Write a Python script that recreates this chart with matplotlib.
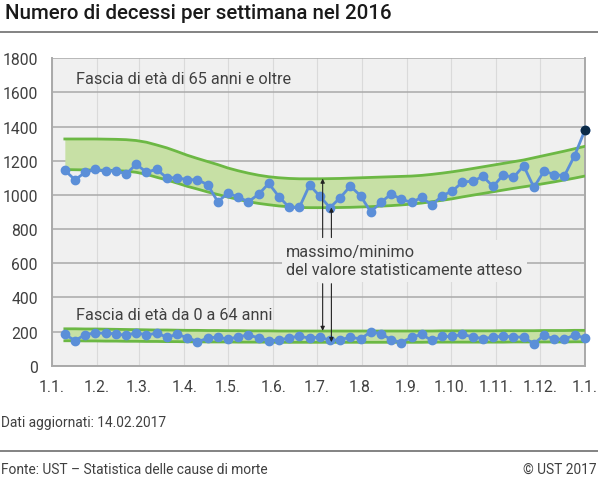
import numpy as np, pandas as pd
import matplotlib
matplotlib.use('Agg')
from matplotlib import pyplot as plt
from matplotlib.lines import Line2D

plt.rcParams['font.family'] = ['Roboto', 'DejaVu Sans']

# Weekly deaths 2016 (week ending on Sunday)
weeks = pd.date_range('2016-01-10', periods=52, freq='7D')

deaths_65plus = [1143, 1088, 1132, 1149, 1137, 1142, 1122, 1179, 1133, 1149,
                 1100, 1100, 1089, 1088, 1060, 960, 1010, 987, 960, 1003,
                 1067, 989, 927, 926, 1057, 993, 925, 983, 1051, 995,
                 900, 956, 1005, 974, 956, 985, 940, 995, 1022, 1075,
                 1080, 1108, 1049, 1117, 1102, 1170, 1044, 1139, 1119, 1112,
                 1230, 1378]
max_65plus = [1327, 1327, 1327, 1327, 1326, 1325, 1323, 1318, 1308, 1292,
              1275, 1254, 1232, 1213, 1195, 1177, 1157, 1141, 1127, 1115,
              1106, 1100, 1096, 1094, 1094, 1094, 1095, 1096, 1098, 1100,
              1102, 1104, 1106, 1108, 1110, 1114, 1120, 1127, 1135, 1144,
              1154, 1164, 1174, 1184, 1194, 1204, 1217, 1230, 1243, 1256,
              1270, 1284]
min_65plus = [1148, 1147, 1146, 1145, 1144, 1142, 1139, 1132, 1120, 1103,
              1087, 1069, 1050, 1034, 1017, 1002, 987, 973, 960, 950,
              942, 935, 930, 926, 925, 925, 925, 926, 927, 929,
              931, 934, 937, 941, 946, 952, 960, 968, 977, 988,
              998, 1008, 1018, 1028, 1038, 1047, 1056, 1066, 1076, 1087,
              1098, 1110]

deaths_0_64 = [183, 147, 182, 192, 190, 187, 177, 194, 179, 191,
               167, 183, 165, 141, 160, 169, 154, 170, 179, 164,
               147, 150, 163, 173, 161, 169, 148, 152, 167, 157,
               198, 187, 153, 135, 167, 183, 148, 171, 171, 183,
               169, 159, 167, 173, 169, 167, 128, 179, 156, 156,
               179, 163]
max_0_64 = [216, 216, 215, 215, 214, 213, 212, 211, 210, 209,
            209, 208, 207, 207, 206, 206, 205, 205, 204, 204,
            204, 203, 203, 203, 203, 203, 203, 203, 203, 203,
            203, 203, 203, 203, 203, 203, 203, 204, 204, 204,
            204, 204, 204, 205, 205, 205, 205, 206, 206, 206,
            207, 207]
min_0_64 = [146, 146, 145, 145, 144, 144, 143, 143, 142, 142,
            141, 141, 140, 140, 139, 139, 139, 138, 138, 138,
            138, 137, 137, 137, 137, 137, 137, 137, 137, 137,
            137, 137, 137, 137, 137, 137, 138, 138, 138, 138,
            138, 138, 138, 138, 139, 139, 139, 139, 139, 139,
            140, 140]

month_starts = pd.date_range('2016-01-01', '2017-01-01', freq='MS')
xtick_labels = ['1.%d.' % d.month for d in month_starts]
yticks = np.arange(0, 1801, 200)

title = 'Numero di decessi per settimana nel 2016'
label_65 = 'Fascia di età di 65 anni e oltre'
label_0 = 'Fascia di età da 0 a 64 anni'
note = 'massimo/minimo\ndel valore statisticamente atteso'

blue = '#5b8fd8'
green_line = '#6cb844'
green_fill = '#c7e0a5'
txt = '#404040'
fs = 11.3
fs_lab = 11.7

fig = plt.figure(figsize=(5.98, 4.81), dpi=100)
ax = fig.add_axes([0.0865, 0.2376, 0.8915, 0.6394])
ax.set_facecolor('#f0f0f0')

for lo, hi in [(min_65plus, max_65plus), (min_0_64, max_0_64)]:
    ax.fill_between(weeks, lo, hi, color=green_fill, lw=0, zorder=2)
    ax.plot(weeks, hi, c=green_line, lw=2, zorder=3)
    ax.plot(weeks, lo, c=green_line, lw=2, zorder=3)

for series in [deaths_65plus, deaths_0_64]:
    ax.plot(weeks, series, c=blue, lw=2, marker='o', ms=6,
            mec=blue, zorder=4, clip_on=False)

# last available week highlighted
ax.plot(weeks[-1:], deaths_65plus[-1:], ls='none', marker='o', ms=6,
        c='#0b2a47', zorder=5, clip_on=False)

ax.set_xlim(pd.Timestamp('2016-01-01'), pd.Timestamp('2017-01-01'))
ax.set_ylim(0, 1800)
ax.set_xticks(month_starts)
ax.set_xticklabels(xtick_labels)
ax.set_yticks(yticks)
ax.set_yticklabels([str(v) for v in yticks])

ax.grid(axis='y', color='#a9a9a9', lw=1.1, zorder=0)
ax.grid(axis='x', color='#dadada', lw=0.8, zorder=0)
ax.set_axisbelow(True)
ax.tick_params(length=0, labelsize=fs, labelcolor=txt)
ax.tick_params(axis='y', pad=10)
ax.tick_params(axis='x', pad=9.5)

for side in ['left', 'bottom', 'right']:
    ax.spines[side].set_color('#a9a9a9')
    ax.spines[side].set_linewidth(1.4)
ax.spines['top'].set_visible(False)

ax.text(pd.Timestamp('2016-01-18'), 1680, label_65, fontsize=fs_lab,
        color=txt, va='center', ha='left')
ax.text(pd.Timestamp('2016-01-18'), 300, label_0, fontsize=fs_lab,
        color=txt, va='center', ha='left')

ax.text(pd.Timestamp('2016-06-10'), 615, note, fontsize=fs_lab, color=txt,
        va='center', ha='left', linespacing=1.3,
        zorder=6, bbox=dict(facecolor='#f0f0f0', edgecolor='none', pad=3))

arr = dict(arrowstyle='-|>', lw=0.8, color='#222222', mutation_scale=6,
           shrinkA=0, shrinkB=0)
x_max = pd.Timestamp('2016-07-05')
x_min = pd.Timestamp('2016-07-11')
ax.annotate('', xy=(x_max, 1095), xytext=(x_max, 750), arrowprops=arr, zorder=7)
ax.annotate('', xy=(x_min, 926), xytext=(x_min, 750), arrowprops=arr, zorder=7)
ax.annotate('', xy=(x_max, 204), xytext=(x_max, 480), arrowprops=arr, zorder=7)
ax.annotate('', xy=(x_min, 138), xytext=(x_min, 480), arrowprops=arr, zorder=7)

fig.text(0.008, 0.9595, title, fontsize=14.8, fontweight='medium',
         color='#1a1a1a', va='baseline', ha='left')
fig.add_artist(Line2D([0, 1], [0.9308, 0.9308], transform=fig.transFigure,
                      color='#6e6e6e', lw=1.2))

fig.text(0.002, 0.1206, 'Dati aggiornati: 14.02.2017', fontsize=9.9,
         color=txt, va='center', ha='left')
fig.add_artist(Line2D([0, 1], [0.0603, 0.0603], transform=fig.transFigure,
                      color='#6e6e6e', lw=1.2))
fig.text(0.002, 0.0229, 'Fonte: UST – Statistica delle cause di morte',
         fontsize=9.9, color=txt, va='center', ha='left')
fig.text(0.998, 0.0229, '© UST 2017', fontsize=9.9, color=txt,
         va='center', ha='right')

plt.savefig('out.png', dpi=100)
plt.close()
